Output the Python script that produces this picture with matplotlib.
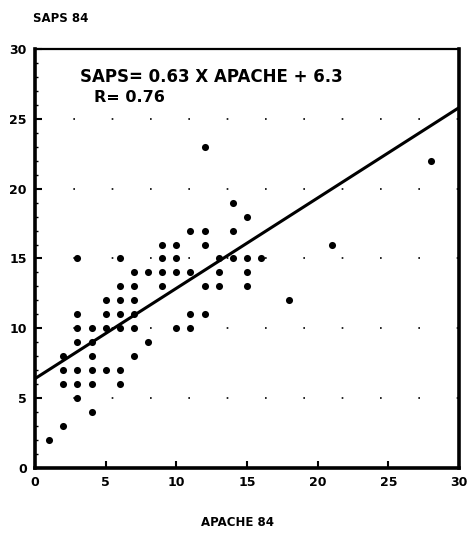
import matplotlib
matplotlib.use("Agg")
import matplotlib.pyplot as plt
from matplotlib.ticker import MultipleLocator

apache = [1, 2, 4, 3,
          2, 3, 4, 6,
          2, 3, 4, 5, 6,
          2, 4, 7,
          3, 4, 8,
          3, 4, 5, 6, 7, 10, 11,
          3, 5, 6, 7, 11, 12,
          5, 6, 7, 18,
          6, 7, 9, 12, 13, 15,
          7, 8, 9, 10, 11, 13, 15,
          3, 6, 9, 10, 13, 14, 15, 16,
          9, 10, 12, 21,
          11, 12, 14,
          15, 14, 28, 12]
saps = [2, 3, 4, 5,
        6, 6, 6, 6,
        7, 7, 7, 7, 7,
        8, 8, 8,
        9, 9, 9,
        10, 10, 10, 10, 10, 10, 10,
        11, 11, 11, 11, 11, 11,
        12, 12, 12, 12,
        13, 13, 13, 13, 13, 13,
        14, 14, 14, 14, 14, 14, 14,
        15, 15, 15, 15, 15, 15, 15, 15,
        16, 16, 16, 16,
        17, 17, 17,
        18, 19, 22, 23]

line_x = [0, 30]
line_y = [6.4, 25.8]
grid_levels = [5, 10, 15, 20, 25]
ticks = [0, 5, 10, 15, 20, 25, 30]

fig = plt.figure(figsize=(4.7, 5.4), dpi=100)
ax = fig.add_axes([0.0745, 0.1333, 0.9021, 0.776])
ax.set_xlim(0, 30)
ax.set_ylim(0, 30)

for g in grid_levels:
    ax.plot([0, 30], [g, g], color="black", lw=1.2, linestyle=(0, (1, 22)), zorder=1)

ax.plot(line_x, line_y, color="black", lw=2.2, zorder=2)
ax.scatter(apache, saps, s=26, color="black", marker="o", linewidths=0, zorder=3)

for side in ["left", "bottom", "right"]:
    ax.spines[side].set_linewidth(2.6)
ax.spines["top"].set_linewidth(1.6)

ax.set_xticks(ticks)
ax.set_yticks(ticks)
ax.yaxis.set_minor_locator(MultipleLocator(1))
ax.tick_params(axis="both", which="major", direction="in", length=5, width=1.5,
               labelsize=9, pad=6)
ax.tick_params(axis="y", which="minor", direction="in", length=2.5, width=1)
for lab in ax.get_xticklabels() + ax.get_yticklabels():
    lab.set_fontweight("bold")

ax.text(0.105, 0.955, "SAPS= 0.63 X APACHE + 6.3", transform=ax.transAxes,
        fontsize=12, fontweight="bold", va="top", ha="left")
ax.text(0.14, 0.903, "R= 0.76", transform=ax.transAxes,
        fontsize=11.5, fontweight="bold", va="top", ha="left")

fig.text(0.07, 0.965, "SAPS 84", fontsize=8.5, fontweight="bold", ha="left", va="center")
fig.text(0.505, 0.033, "APACHE 84", fontsize=8.5, fontweight="bold", ha="center", va="center")

fig.savefig("out.png", dpi=100)
